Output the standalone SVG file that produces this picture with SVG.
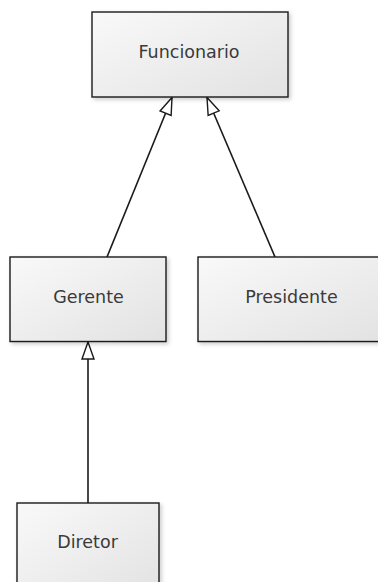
<svg xmlns="http://www.w3.org/2000/svg" width="378" height="582" viewBox="0 0 378 582">
<style>
.box{stroke:#1a1a1a;stroke-width:1.4;fill:url(#g)}
.lbl{font-family:"DejaVu Sans",Verdana,sans-serif;font-size:17.5px;fill:#3a3a3a;text-anchor:middle}
.edge{stroke:#1a1a1a;stroke-width:1.6;fill:none;marker-end:url(#tri)}
</style>
<defs>
<linearGradient id="g" x1="0" y1="0" x2="1" y2="1">
<stop offset="0" stop-color="#f9f9f9"/>
<stop offset="1" stop-color="#e2e2e2"/>
</linearGradient>
<filter id="sh" x="-10%" y="-10%" width="130%" height="130%">
<feGaussianBlur in="SourceAlpha" stdDeviation="2"/>
<feOffset dx="1.5" dy="1.5"/>
<feComponentTransfer><feFuncA type="linear" slope="0.2"/></feComponentTransfer>
<feMerge><feMergeNode/><feMergeNode in="SourceGraphic"/></feMerge>
</filter>
<marker id="tri" markerWidth="20" markerHeight="16" refX="18" refY="7" orient="auto" markerUnits="userSpaceOnUse">
<path d="M1,1 L18,7 L1,13 Z" fill="#fff" stroke="#1a1a1a" stroke-width="1.4" stroke-linejoin="miter"/>
</marker>
</defs>
<g id="connectors">
<line class="edge" x1="107" y1="257" x2="172" y2="97.5"/>
<line class="edge" x1="275" y1="257" x2="207" y2="97.5"/>
<line class="edge" x1="88" y1="503" x2="88" y2="342"/>
</g>
<g id="Funcionario">
<rect class="box" filter="url(#sh)" x="92" y="12" width="196" height="85"/>
<text class="lbl" x="189" y="58">Funcionario</text>
</g>
<g id="Gerente">
<rect class="box" filter="url(#sh)" x="10" y="257" width="156" height="84.5"/>
<text class="lbl" x="88.5" y="303">Gerente</text>
</g>
<g id="Presidente">
<rect class="box" filter="url(#sh)" x="198" y="257" width="190" height="84.5"/>
<text class="lbl" x="291.5" y="303">Presidente</text>
</g>
<g id="Diretor">
<rect class="box" filter="url(#sh)" x="17" y="503" width="142" height="95"/>
<text class="lbl" x="87.5" y="548">Diretor</text>
</g>
</svg>
